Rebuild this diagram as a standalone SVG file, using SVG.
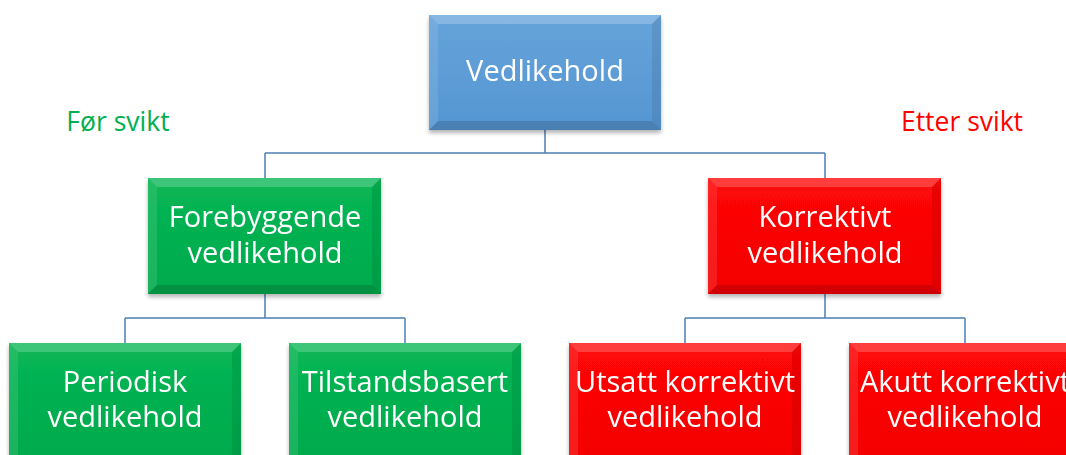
<svg xmlns="http://www.w3.org/2000/svg" width="1066" height="455" viewBox="0 0 1066 455">
<defs>
<filter id="sh" x="-10%" y="-10%" width="120%" height="130%">
<feGaussianBlur in="SourceAlpha" stdDeviation="2"/>
<feOffset dx="0" dy="3"/>
<feComponentTransfer><feFuncA type="linear" slope="0.3"/></feComponentTransfer>
<feMerge><feMergeNode/><feMergeNode in="SourceGraphic"/></feMerge>
</filter>
<linearGradient id="gB" x1="0" y1="0" x2="0" y2="1"><stop offset="0" stop-color="#66a3da"/><stop offset="1" stop-color="#5596d2"/></linearGradient>
<linearGradient id="gG" x1="0" y1="0" x2="0" y2="1"><stop offset="0" stop-color="#08b654"/><stop offset="1" stop-color="#00aa4c"/></linearGradient>
<linearGradient id="gR" x1="0" y1="0" x2="0" y2="1"><stop offset="0" stop-color="#ff0808"/><stop offset="1" stop-color="#f40000"/></linearGradient>
</defs>
<style>
.t{font-family:"Open Sans","Liberation Sans",sans-serif;font-size:29px;fill:#ffffff;text-anchor:middle}
.lbl{font-family:"Open Sans","Liberation Sans",sans-serif;font-size:26.5px;text-anchor:middle}
.c{stroke:#4d7fb3;stroke-width:1.5;fill:none}
.hi{fill:#ffffff;fill-opacity:0.22}
.hl{fill:#ffffff;fill-opacity:0.1}
.dk{fill:#000000;fill-opacity:0.14}
.dr{fill:#000000;fill-opacity:0.08}
</style>
<g id="connectors">
<path class="c" d="M545 130V153M265 153H825M265 153V178M825 153V178"/>
<path class="c" d="M265 294V318M125 318H405M125 318V343M405 318V343"/>
<path class="c" d="M825 294V318M685 318H965M685 318V343M965 318V343"/>
</g>
<g id="label-for"><text class="lbl" x="118" y="131" fill="#00b050">Før svikt</text></g>
<g id="label-etter"><text class="lbl" x="962" y="131" fill="#ff0000">Etter svikt</text></g>
<g id="n-root" filter="url(#sh)">
<rect x="429" y="15" width="232" height="115" fill="url(#gB)"/>
<polygon class="hi" points="429,15 661,15 652,24 438,24"/>
<polygon class="hl" points="429,15 438,24 438,121 429,130"/>
<polygon class="dr" points="661,15 661,130 652,121 652,24"/>
<polygon class="dk" points="429,130 661,130 652,121 438,121"/>
<text class="t" x="545" y="81">Vedlikehold</text>
</g>
<g id="n-forebyggende" filter="url(#sh)">
<rect x="148" y="178" width="233" height="116" fill="url(#gG)"/>
<polygon class="hi" points="148,178 381,178 372,187 157,187"/>
<polygon class="hl" points="148,178 157,187 157,285 148,294"/>
<polygon class="dr" points="381,178 381,294 372,285 372,187"/>
<polygon class="dk" points="148,294 381,294 372,285 157,285"/>
<text class="t" x="265" y="227">Forebyggende</text>
<text class="t" x="265" y="263">vedlikehold</text>
</g>
<g id="n-korrektivt" filter="url(#sh)">
<rect x="708" y="178" width="233" height="116" fill="url(#gR)"/>
<polygon class="hi" points="708,178 941,178 932,187 717,187"/>
<polygon class="hl" points="708,178 717,187 717,285 708,294"/>
<polygon class="dr" points="941,178 941,294 932,285 932,187"/>
<polygon class="dk" points="708,294 941,294 932,285 717,285"/>
<text class="t" x="825" y="227">Korrektivt</text>
<text class="t" x="825" y="263">vedlikehold</text>
</g>
<g id="n-periodisk" filter="url(#sh)">
<rect x="9" y="343" width="232" height="116" fill="url(#gG)"/>
<polygon class="hi" points="9,343 241,343 232,352 18,352"/>
<polygon class="hl" points="9,343 18,352 18,459 9,459"/>
<polygon class="dr" points="241,343 241,459 232,459 232,352"/>
<text class="t" x="125" y="392">Periodisk</text>
<text class="t" x="125" y="427">vedlikehold</text>
</g>
<g id="n-tilstand" filter="url(#sh)">
<rect x="289" y="343" width="232" height="116" fill="url(#gG)"/>
<polygon class="hi" points="289,343 521,343 512,352 298,352"/>
<polygon class="hl" points="289,343 298,352 298,459 289,459"/>
<polygon class="dr" points="521,343 521,459 512,459 512,352"/>
<text class="t" x="405" y="392">Tilstandsbasert</text>
<text class="t" x="405" y="427">vedlikehold</text>
</g>
<g id="n-utsatt" filter="url(#sh)">
<rect x="569" y="343" width="232" height="116" fill="url(#gR)"/>
<polygon class="hi" points="569,343 801,343 792,352 578,352"/>
<polygon class="hl" points="569,343 578,352 578,459 569,459"/>
<polygon class="dr" points="801,343 801,459 792,459 792,352"/>
<text class="t" x="685" y="392">Utsatt korrektivt</text>
<text class="t" x="685" y="427">vedlikehold</text>
</g>
<g id="n-akutt" filter="url(#sh)">
<rect x="849" y="343" width="232" height="116" fill="url(#gR)"/>
<polygon class="hi" points="849,343 1081,343 1072,352 858,352"/>
<polygon class="hl" points="849,343 858,352 858,459 849,459"/>
<text class="t" x="965" y="392">Akutt korrektivt</text>
<text class="t" x="965" y="427">vedlikehold</text>
</g>
</svg>
